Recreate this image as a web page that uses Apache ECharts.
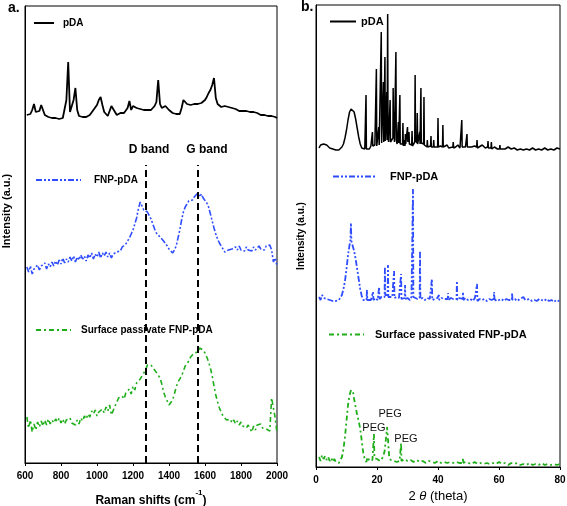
<!DOCTYPE html>
<html><head><meta charset="utf-8">
<script src="https://cdn.jsdelivr.net/npm/echarts@6/dist/echarts.min.js"></script>
<style>html,body{margin:0;padding:0;background:#fff}#c{width:567px;height:506px}</style>
</head><body><div id="c"></div>
<script>
// ---------- Panel a: Raman spectra (sampled every 10 cm-1 from 610 to 2000) ----------
const ramanStart = 610, ramanStep = 10;
const ramanPDA = [
 2,4,3,7,13,5,3,6,12,7,
 2,1,0,0,-1,0,-1,-1,-2,0,
 -1,1,17,55,5,3,17,29,7,1,
 2,0,1,0,1,2,4,7,9,12,
 17,20,12,5,3,1,2,11,13,5,
 2,3,4,3,4,5,9,16,7,11,
 12,9,8,8,7,7,6,7,8,7,
 9,11,15,37,13,9,10,11,9,7,
 5,4,3,3,4,3,9,17,19,13,
 13,12,11,13,12,13,14,14,15,17,
 20,24,27,32,39,19,13,11,10,10,
 11,9,10,9,9,7,8,7,6,7,
 6,5,6,5,5,4,5,3,4,3,
 2,3,2,3,1,2,1,2,0,-1];
const ramanFNP = [
 3,-2,4,-4,1,-1,5,0,4,2,
 7,1,6,3,8,4,9,5,10,6,
 12,7,11,8,13,9,14,8,13,10,
 15,11,14,9,15,12,17,11,16,13,
 18,12,17,14,18,13,17,12,16,14,
 18,20,19,23,22,26,28,32,36,40,
 46,52,61,68,64,60,62,58,56,51,
 46,41,37,39,33,35,29,27,24,21,
 23,17,20,24,32,40,50,58,63,66,
 69,71,70,73,74,77,73,76,72,71,
 67,63,56,49,42,36,31,27,24,21,
 18,17,20,18,21,19,23,20,24,20,
 22,19,23,20,21,19,23,20,22,24,
 21,23,20,24,22,25,20,8,12,4];
const ramanSP = [
 8,-3,5,-7,1,-5,3,-2,4,-1,
 5,0,6,1,5,2,6,3,7,2,
 6,1,5,3,7,2,4,0,5,1,
 7,4,9,6,11,8,14,11,15,9,
 13,11,16,12,18,14,20,10,11,19,
 23,27,25,29,26,32,30,36,31,39,
 35,42,40,46,49,51,55,60,62,60,
 58,55,53,50,47,41,33,28,24,20,
 22,25,31,38,43,45,49,54,59,61,
 64,68,70,72,74,73,77,78,75,72,
 68,63,57,49,39,30,23,17,13,9,
 7,5,3,6,2,5,1,4,0,3,
 -1,1,-3,0,-2,-7,-1,-5,0,-2,
 1,-3,-1,-4,-2,-6,27,17,7,-8];
const bandPositions = [1272, 1561];
const bandNames = ['D band', 'G band'];
const ramanTicks = ['600','800','1000','1200','1400','1600','1800','2000'];

// ---------- Panel b: XRD patterns, [2θ, intensity] ----------
const xrdPDA = [
 [1,4],[1.5,7],[2,5],[2.5,8],[3,6],[3.5,7],[4,5],[4.5,4],[5,6],[5.5,3],[6,4],[6.5,2],[7,3],[7.5,2],[8,3],[8.5,5],
 [9,8],[9.5,14],[10,22],[10.5,32],[11,40],[11.5,43],[12,44],[12.5,40],[13,33],[13.5,24],[14,15],[14.5,8],[15,4],[15.5,2],[16,3],
 [16.28,3],[16.4,57],[16.52,3],[17,4],[17.5,3],[18,6],[18.38,5],[18.5,20],[18.62,6],[19,5],[19.3,7],
 [19.68,6],[19.8,83],[19.92,6],[20.3,8],[20.48,7],[20.6,25],[20.72,7],[21,6],
 [21.28,8],[21.4,120],[21.52,9],[21.7,8],[21.98,9],[22.1,70],[22.22,10],[22.45,9],[22.6,95],[22.72,11],[22.9,12],
 [23.08,10],[23.2,60],[23.32,12],[23.4,12],[23.5,138],[23.62,14],[23.8,10],[24.18,12],[24.3,52],[24.42,10],
 [24.7,8],[25,12],[25.22,14],[25.3,64],[25.42,18],[25.5,20],[25.6,40],[25.72,10],[25.9,8],
 [26.08,10],[26.2,100],[26.32,12],[26.6,8],[26.88,10],[27,30],[27.12,9],[27.38,10],[27.5,57],[27.62,8],[28,10],
 [28.38,8],[28.5,29],[28.62,6],[28.9,12],[29.18,6],[29.3,18],[29.42,8],[29.7,7],
 [29.88,8],[30,25],[30.12,10],[30.38,12],[30.5,20],[30.62,8],[31,6],[31.38,7],[31.5,21],[31.62,6],[32,8],
 [32.38,10],[32.5,77],[32.62,12],[32.9,10],[33.08,9],[33.2,39],[33.32,8],[33.6,7],
 [33.88,6],[34,20],[34.12,8],[34.28,10],[34.4,64],[34.52,9],[34.9,7],[35.28,8],[35.4,55],[35.52,7],[36,6],
 [36.38,5],[36.5,12],[36.62,5],[37,6],[37.58,6],[37.7,16],[37.82,5],[38.2,6],[38.48,5],[38.6,12],[38.72,5],[39.2,4],
 [39.88,5],[40,34],[40.12,5],[40.8,6],[41.48,5],[41.6,27],[41.72,5],[42.3,4],[43,7],[43.5,4],[44,6],
 [44.88,5],[45,10],[45.12,4],[45.8,5],[46.5,7],[47.2,4],[47.68,5],[47.8,32],[47.92,5],[48.5,6],[49,5],
 [49.38,5],[49.5,18],[49.62,5],[50.2,4],[51,5],[52,6],[52.68,5],[52.8,12],[52.92,4],[53.5,5],[54.5,7],[55.5,4],
 [56.28,5],[56.4,11],[56.52,4],[57,5],[57.38,4],[57.5,10],[57.62,3],[58.5,5],[59.5,3],[60.18,3],[60.3,7],[60.42,3],
 [61,4],[62,3],[63,5],[64,3],[65,4],[66,2],[67,3],[68,2],[69,3],[70,2],[71,4],[72,2],[73,3],[74,2],[75,4],[76,2],
 [77,3],[78,2],[79,4],[80,3]];
const xrdFNP = [
 [1,6],[1.5,3],[2,8],[2.5,5],[3,7],[3.5,4],[4,6],[4.5,3],[5,5],[5.5,2],[6,4],[6.5,2],[7,4],[7.5,3],[8,5],[8.5,8],
 [9,14],[9.5,22],[10,34],[10.5,48],[11,58],[11.3,63],[11.45,80],[11.6,62],[12,60],[12.5,52],[13,44],[13.5,34],
 [14,24],[14.5,14],[15,7],[15.5,3],[16,2],
 [16.58,3],[16.7,13],[16.82,3],[17.4,5],[18,3],[18.58,4],[18.7,11],[18.82,3],[19.5,5],[20.2,3],
 [20.58,4],[20.7,16],[20.82,4],[21.5,6],[22.1,5],[22.48,6],[22.6,36],[22.72,8],[23.1,10],
 [23.48,8],[23.6,38],[23.72,6],[24.3,5],[25,6],[25.48,6],[25.6,32],[25.72,5],[26.4,6],[27.2,5],
 [27.78,5],[27.9,29],[28.02,4],[28.6,6],[29.08,5],[29.2,18],[29.32,4],[30,5],[30.8,3],[31.3,6],
 [31.68,6],[31.8,114],[31.92,6],[32.6,5],[33.3,4],[33.98,5],[34.1,52],[34.22,4],[35,5],[35.7,3],[36.5,5],[37.3,4],
 [37.88,5],[38,24],[38.12,3],[39,4],[39.8,5],[40.18,4],[40.3,8],[40.42,3],[41.2,5],[42,4],[42.6,5],
 [43.18,4],[43.3,10],[43.42,3],[44.2,5],[45,4],[45.6,3],[46.08,4],[46.2,22],[46.32,3],[47,5],[47.6,3],
 [48.08,4],[48.2,11],[48.32,3],[49,5],[49.8,3],[50.6,4],[51.4,2],[52.1,5],[52.68,4],[52.8,19],[52.92,2],
 [53.6,4],[54.4,3],[55.2,4],[56,2],[56.8,4],[57.6,3],[58.28,4],[58.4,11],[58.52,4],[59.2,2],[60,3],[60.8,4],
 [61.6,2],[62.4,4],[63.2,3],[63.8,4],[64.18,3],[64.3,10],[64.42,3],[65.2,4],[66,2],[66.8,4],[67.4,3],[68,6],
 [68.6,3],[69.2,2],[70,4],[70.8,2],[71.6,3],[72.4,2],[73.2,4],[74,3],[74.8,2],[75.6,4],[76.4,2],[77.2,3],
 [78,1],[78.8,3],[79.5,2],[80,3]];
const xrdSP = [
 [1,8],[1.5,4],[2,10],[2.5,6],[3,9],[3.5,5],[4,8],[4.5,4],[5,7],[5.5,3],[6,6],[6.5,3],[7,5],[7.5,2],[8,4],[8.5,8],
 [9,16],[9.5,28],[10,44],[10.5,60],[11,70],[11.5,75],[11.8,77],[12.2,72],[12.5,66],[13,58],[13.5,50],[14,44],
 [14.5,36],[15,24],[15.5,12],[16,6],[16.5,3],[17,8],[17.5,4],[18,6],[18.5,5],
 [18.85,6],[19,31],[19.15,7],[19.6,5],[20,6],[20.5,7],[21,4],[21.5,6],[22,8],[22.5,14],[23,28],[23.3,38],[23.6,26],
 [24,8],[24.5,5],[25,7],[25.5,4],[26,6],[26.5,3],[27,5],[27.4,4],[27.78,5],[27.9,22],[28.02,4],[28.5,6],
 [29,6],[30,4],[31,5],[32,3],[33,5],[34,3],[35,4],[36,2],[37,4],[38,3],[39,2],[40,4],[41,2],[42,3],[43,2],
 [44,3],[45,2],[46,3],[47,2],[48.08,2],[48.2,7],[48.32,2],[49,3],[50,2],[51,1],[52,3],[53,1],[54,2],[55,1],
 [56,2],[57,1],[58,2],[59,1],[60,3],[61,1],[62,2],[63,0],[64,2],[65,1],[66,2],[67,0],[68,1],[69,0],[70,2],
 [71,0],[72,1],[73,0],[74,2],[75,0],[76,1],[77,0],[78,1],[79,0],[80,1]];
const pegPeaks = [19.0, 23.3, 27.9];
const xrdTicks = ['0','20','40','60','80'];

// ---------- styling / layout ----------
const FONT = 'Liberation Sans, Arial, sans-serif';
const BLACK = '#000000', BLUE = '#2f4dff', GREEN = '#1fae1a';
// vertical offsets used to stack the traces inside each panel
const offA = {pda: 346, fnp: 193, sp: 38};
const offB = {pda: 315, fnp: 164, sp: 2};

const ramanX = ramanPDA.map((_, i) => ramanStart + i * ramanStep);
const toPairs = (xs, ys, off) => xs.map((x, i) => [x, ys[i] + off]);
const shift = (pairs, off) => pairs.map(p => [p[0], p[1] + off]);

const chart = echarts.init(document.getElementById('c'), null, {renderer: 'canvas'});

const xAxisCommon = {
  type: 'value',
  axisLine: {show: true, onZero: false, lineStyle: {color: BLACK, width: 1}},
  axisTick: {show: true, length: 3, lineStyle: {color: BLACK}},
  splitLine: {show: false},
  axisLabel: {color: BLACK, fontWeight: 'bold', fontSize: 10, fontFamily: FONT, margin: 8},
  nameLocation: 'middle'
};
const yAxisCommon = {
  type: 'value', min: 0,
  axisLine: {show: true, lineStyle: {color: BLACK}},
  axisTick: {show: false}, axisLabel: {show: false}, splitLine: {show: false}
};

const legendCommon = {
  orient: 'horizontal', padding: 0, itemHeight: 12,
  itemStyle: {opacity: 0, color: 'transparent', borderWidth: 0},
  textStyle: {color: BLACK, fontWeight: 'bold', fontSize: 10, fontFamily: FONT},
  selectedMode: false
};
const lg = (o, ts) => Object.assign({}, legendCommon, o, {textStyle: Object.assign({}, legendCommon.textStyle, ts)});

const option = {
  animation: false,
  backgroundColor: '#fff',
  grid: [
    {left: 25, top: 6, width: 252, height: 457, show: true, borderColor: BLACK, borderWidth: 1,
     backgroundColor: 'transparent', containLabel: false, outerBoundsMode: 'none'},
    {left: 316, top: 5, width: 244, height: 462, show: true, borderColor: BLACK, borderWidth: 1,
     backgroundColor: 'transparent', containLabel: false, outerBoundsMode: 'none'}
  ],
  xAxis: [
    Object.assign({}, xAxisCommon, {
      gridIndex: 0, min: 600, max: 2000, interval: 200,
      axisLabel: Object.assign({}, xAxisCommon.axisLabel, {margin: 8, formatter: v => ramanTicks[(v - 600) / 200]}),
      name: '{n|Raman shifts (cm}{sup|-1}{n|)}', nameGap: 26,
      nameTextStyle: {color: BLACK, fontWeight: 'bold', fontSize: 12, fontFamily: FONT,
        rich: {
          n: {fontSize: 12, fontWeight: 'bold', fontFamily: FONT, color: BLACK, lineHeight: 18, verticalAlign: 'bottom'},
          sup: {fontSize: 8, fontWeight: 'bold', fontFamily: FONT, color: BLACK, lineHeight: 10, verticalAlign: 'top'}
        }}
    }),
    Object.assign({}, xAxisCommon, {
      gridIndex: 1, min: 0, max: 80, interval: 20,
      axisLabel: Object.assign({}, xAxisCommon.axisLabel, {margin: 8, formatter: v => xrdTicks[v / 20]}),
      name: '2 {i|θ} (theta)', nameGap: 20,
      nameTextStyle: {color: BLACK, fontWeight: 'normal', fontSize: 13, fontFamily: FONT,
        rich: {i: {fontStyle: 'italic', fontSize: 13, fontFamily: FONT, color: BLACK}}}
    })
  ],
  yAxis: [
    Object.assign({}, yAxisCommon, {gridIndex: 0, max: 457}),
    Object.assign({}, yAxisCommon, {gridIndex: 1, max: 462})
  ],
  legend: [
    lg({data: ['pDA'], left: 33, top: 18, itemWidth: 20}, {padding: [0, 0, 0, 4]}),
    lg({data: ['FNP-pDA'], left: 35, top: 175, itemWidth: 45}, {padding: [0, 0, 0, 8]}),
    lg({data: ['Surface passivate FNP-pDA'], left: 35, top: 325, itemWidth: 35}, {padding: [0, 0, 0, 5]}),
    lg({data: ['pDA'], left: 329, top: 16, itemWidth: 26}, {fontSize: 11, padding: [0, 0, 0, 0]}),
    lg({data: ['FNP-pDA'], left: 332, top: 171, itemWidth: 44}, {fontSize: 11, padding: [0, 0, 0, 8]}),
    lg({data: ['Surface passivated FNP-pDA'], left: 328, top: 329, itemWidth: 35}, {fontSize: 11, padding: [0, 0, 0, 6]})
  ],
  series: [
    {name: 'pDA', type: 'line', xAxisIndex: 0, yAxisIndex: 0, symbol: 'none', showSymbol: false,
     data: toPairs(ramanX, ramanPDA, offA.pda), lineStyle: {color: BLACK, width: 1.8}, itemStyle: {color: BLACK}},
    {name: 'FNP-pDA', type: 'line', xAxisIndex: 0, yAxisIndex: 0, symbol: 'none', showSymbol: false,
     data: toPairs(ramanX, ramanFNP, offA.fnp), lineStyle: {color: BLUE, width: 1.6, type: [6, 2, 2, 2, 2, 2]}, itemStyle: {color: BLUE}},
    {name: 'Surface passivate FNP-pDA', type: 'line', xAxisIndex: 0, yAxisIndex: 0, symbol: 'none', showSymbol: false,
     data: toPairs(ramanX, ramanSP, offA.sp), lineStyle: {color: GREEN, width: 1.6, type: [5, 3, 2, 3]}, itemStyle: {color: GREEN},
     markLine: {
       silent: true, symbol: 'none', animation: false,
       lineStyle: {color: BLACK, width: 2, type: [7, 4]},
       label: {show: true, position: 'end', formatter: '{b}', color: BLACK, fontWeight: 'bold', fontSize: 12, fontFamily: FONT, distance: 9},
       data: bandPositions.map((p, i) => [
         {name: bandNames[i], coord: [p, 0], label: {padding: i === 0 ? [0, 0, 0, 6] : [0, 0, 0, 18]}},
         {coord: [p, 298]}
       ])
     }},
    {name: 'pDA', type: 'line', xAxisIndex: 1, yAxisIndex: 1, symbol: 'none', showSymbol: false,
     data: shift(xrdPDA, offB.pda), lineStyle: {color: BLACK, width: 1.5}, itemStyle: {color: BLACK}},
    {name: 'FNP-pDA', type: 'line', xAxisIndex: 1, yAxisIndex: 1, symbol: 'none', showSymbol: false,
     data: shift(xrdFNP, offB.fnp), lineStyle: {color: BLUE, width: 1.8, type: [6, 2, 2, 2, 2, 2]}, itemStyle: {color: BLUE}},
    {name: 'Surface passivated FNP-pDA', type: 'line', xAxisIndex: 1, yAxisIndex: 1, symbol: 'none', showSymbol: false,
     data: shift(xrdSP, offB.sp), lineStyle: {color: GREEN, width: 1.8, type: [5, 3, 2, 3]}, itemStyle: {color: GREEN},
     markPoint: {
       silent: true, symbol: 'circle', symbolSize: 0,
       label: {show: true, position: 'inside', formatter: 'PEG', color: '#111', fontSize: 11, fontFamily: FONT},
       data: [
         {coord: [pegPeaks[0], 39]},
         {coord: [pegPeaks[1] + 1.0, 53]},
         {coord: [pegPeaks[2] + 1.6, 28]}
       ]
     }}
  ],
  graphic: [
    {type: 'text', left: 8, top: 1, style: {text: 'a.', font: 'bold 14px ' + FONT, fill: BLACK}},
    {type: 'text', left: 301, top: 0, style: {text: 'b.', font: 'bold 14px ' + FONT, fill: BLACK}},
    {type: 'text', x: 7, y: 211, rotation: Math.PI / 2,
     style: {text: 'Intensity (a.u.)', font: 'bold 11px ' + FONT, fill: BLACK, align: 'center', verticalAlign: 'middle'}},
    {type: 'text', x: 301, y: 236, rotation: Math.PI / 2,
     style: {text: 'Intensity (a.u.)', font: 'bold 10px ' + FONT, fill: BLACK, align: 'center', verticalAlign: 'middle'}}
  ]
};
chart.setOption(option);
</script>
</body></html>
